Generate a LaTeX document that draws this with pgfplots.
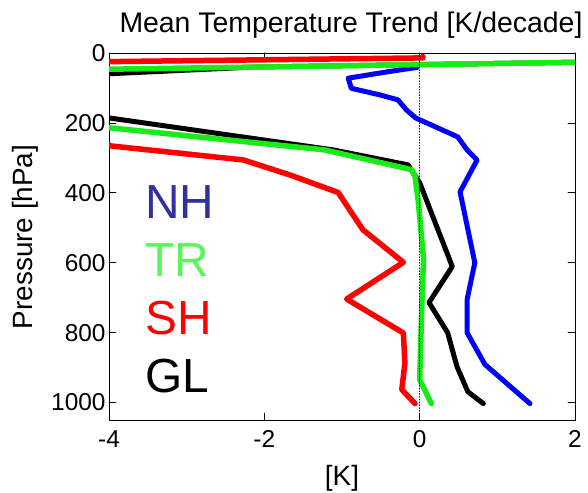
\documentclass[border=0pt]{standalone}
\usepackage{fontspec}
\setmainfont{Liberation Sans}
\usepackage{pgfplots}
\pgfplotsset{compat=1.18}

\definecolor{nhblue}{RGB}{0,0,255}
\definecolor{trgreen}{RGB}{25,235,25}
\definecolor{shred}{RGB}{255,0,0}
\definecolor{nhlabel}{RGB}{48,48,160}
\definecolor{trlabel}{RGB}{90,245,90}

\begin{document}
\begin{tikzpicture}
\begin{axis}[
  at={(0,0)}, anchor=south west,
  scale only axis, width=466bp, height=367bp,
  xmin=-4, xmax=2, ymin=0, ymax=1050, y dir=reverse,
  xtick={-4,-2,0,2}, ytick={0,200,400,600,800,1000},
  tick align=inside, major tick length=7bp,
  axis line style={line width=0.8bp},
  every tick/.style={black, line width=0.8bp},
  /pgf/number format/assume math mode=true,
  /pgf/number format/1000 sep={},
  ticklabel style={font=\fontsize{24.5}{26}\selectfont},
  xticklabel style={yshift=-7bp},
  line join=round, line cap=round,
]
% Northern hemisphere
\addplot[nhblue, line width=5bp] coordinates {
  (-0.03,41) (-0.42,54) (-0.92,72)
  (-0.88,101) (-0.51,120) (-0.28,134) (-0.17,163) (-0.05,186)
  (0.49,240) (0.61,277) (0.74,306) (0.52,397) (0.71,600) (0.61,706)
  (0.61,800) (0.84,891) (1.42,1003)};
% Global mean
\addplot[black, line width=5bp] coordinates {
  (4,20) (-2.15,40.3) (-6,80) (-5,154) (-1.12,277) (-0.15,320)
  (0.00,371) (0.42,611) (0.12,714) (0.36,800) (0.48,897) (0.62,969)
  (0.82,1003)};
% Tropics
\addplot[trgreen, line width=5.5bp] coordinates {
  (4,20) (-6,53) (-5,191) (-1.23,277) (-0.10,334) (-0.06,353)
  (-0.02,420) (0.00,468) (0.05,591) (0.03,706) (0.00,934) (0.15,1003)};
% Southern hemisphere
\addplot[shred, line width=5.5bp] coordinates {
  (0.04,10) (0.04,14) (-6,30) (-5.5,230) (-2.27,306) (-1.67,349)
  (-1.05,399) (-0.73,506) (-0.21,599) (-0.94,704) (-0.21,801)
  (-0.19,887) (-0.23,963) (-0.06,1003)};
% zero line
\addplot[black, dotted, line width=0.8bp] coordinates {(0,0) (0,1050)};
\end{axis}

\node[font=\fontsize{28.5}{30}\selectfont] at (242bp,395bp) {Mean Temperature Trend [K/decade]};
\node[font=\fontsize{28}{30}\selectfont, rotate=90] at (-84bp,183bp) {Pressure [hPa]};
\node[font=\fontsize{28}{30}\selectfont] at (233bp,-58bp) {[K]};

\node[font=\fontsize{48}{50}\selectfont, text=nhlabel, anchor=west, inner sep=0pt] at (36bp,218bp) {NH};
\node[font=\fontsize{48}{50}\selectfont, text=trlabel, anchor=west, inner sep=0pt] at (36bp,160bp) {TR};
\node[font=\fontsize{48}{50}\selectfont, text=shred, anchor=west, inner sep=0pt] at (36bp,102bp) {SH};
\node[font=\fontsize{48}{50}\selectfont, text=black, anchor=west, inner sep=0pt] at (36bp,44bp) {GL};

\pgfresetboundingbox
\path[use as bounding box] (-109bp,-73bp) rectangle (479bp,420bp);
\end{tikzpicture}
\end{document}
